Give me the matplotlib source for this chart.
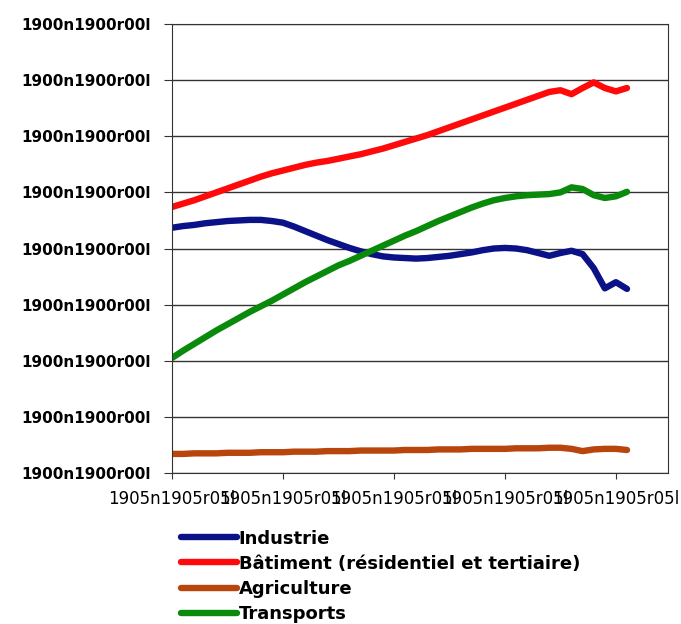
import matplotlib.pyplot as plt

# energy use by sector
years = list(range(1970, 2012))

industrie = [43.7, 44.0, 44.2, 44.5, 44.7, 44.9, 45.0, 45.1, 45.1, 44.9,
             44.6, 43.9, 43.1, 42.3, 41.5, 40.8, 40.1, 39.5, 39.0, 38.6,
             38.4, 38.3, 38.2, 38.3, 38.5, 38.7, 39.0, 39.3, 39.7, 40.0,
             40.1, 40.0, 39.7, 39.2, 38.7, 39.2, 39.6, 39.0, 36.5, 32.9,
             34.0, 32.8]

batiment = [47.4, 48.0, 48.6, 49.3, 50.0, 50.7, 51.4, 52.1, 52.8, 53.4,
            53.9, 54.4, 54.9, 55.3, 55.6, 56.0, 56.4, 56.8, 57.3, 57.8,
            58.4, 59.0, 59.6, 60.2, 60.9, 61.6, 62.3, 63.0, 63.7, 64.4,
            65.1, 65.8, 66.5, 67.2, 67.9, 68.2, 67.5, 68.6, 69.6, 68.6,
            68.0, 68.6]

agriculture = [3.4, 3.4, 3.5, 3.5, 3.5, 3.6, 3.6, 3.6, 3.7, 3.7,
               3.7, 3.8, 3.8, 3.8, 3.9, 3.9, 3.9, 4.0, 4.0, 4.0,
               4.0, 4.1, 4.1, 4.1, 4.2, 4.2, 4.2, 4.3, 4.3, 4.3,
               4.3, 4.4, 4.4, 4.4, 4.5, 4.5, 4.3, 3.9, 4.2, 4.3,
               4.3, 4.1]

transports = [20.5, 21.8, 23.0, 24.2, 25.4, 26.5, 27.6, 28.7, 29.7, 30.7,
              31.8, 32.9, 34.0, 35.0, 36.0, 37.0, 37.8, 38.7, 39.6, 40.5,
              41.4, 42.3, 43.1, 44.0, 44.9, 45.7, 46.5, 47.3, 48.0, 48.6,
              49.0, 49.3, 49.5, 49.6, 49.7, 50.0, 50.9, 50.6, 49.5, 49.0,
              49.3, 50.1]

labels = ["Industrie", "Bâtiment (résidentiel et tertiaire)",
          "Agriculture", "Transports"]
colors = ["#0b1186", "#ff0a0a", "#b8460c", "#0a8a0a"]

y_ticks = [0, 10, 20, 30, 40, 50, 60, 70, 80]
x_ticks = [1970, 1980, 1990, 2000, 2010]
y_tick_label = "1900n1900r00l"
x_tick_label = "1905n1905r05l"


def main():
    fig = plt.figure(figsize=(6.81, 6.24), dpi=100)
    ax = fig.add_axes([0.2526, 0.242, 0.7284, 0.7195])

    series = [industrie, batiment, agriculture, transports]
    for vals, lab, col in zip(series, labels, colors):
        ax.plot(years, vals, color=col, lw=4.6, label=lab,
                solid_capstyle="round", solid_joinstyle="round")

    ax.set_xlim(1970, 2014.7)
    ax.set_ylim(0, 80)
    ax.set_yticks(y_ticks)
    ax.set_yticklabels([y_tick_label] * len(y_ticks), fontweight="bold", fontsize=11)
    ax.set_xticks(x_ticks)
    ax.set_xticklabels([x_tick_label] * len(x_ticks), fontsize=12)
    ax.grid(axis="y", color="#333333", lw=1)
    ax.set_axisbelow(True)
    ax.tick_params(axis="y", length=6, color="#333333", pad=9)
    ax.tick_params(axis="x", length=4, color="#333333", pad=8)
    for s in ax.spines.values():
        s.set_color("#333333")

    fig.legend(loc="upper left", bbox_to_anchor=(0.255, 0.163), frameon=False,
               prop={"size": 13, "weight": "bold"}, handlelength=3.1,
               handletextpad=0.1, labelspacing=0.4, borderaxespad=0)

    fig.savefig("out.png", dpi=100)


if __name__ == "__main__":
    main()
